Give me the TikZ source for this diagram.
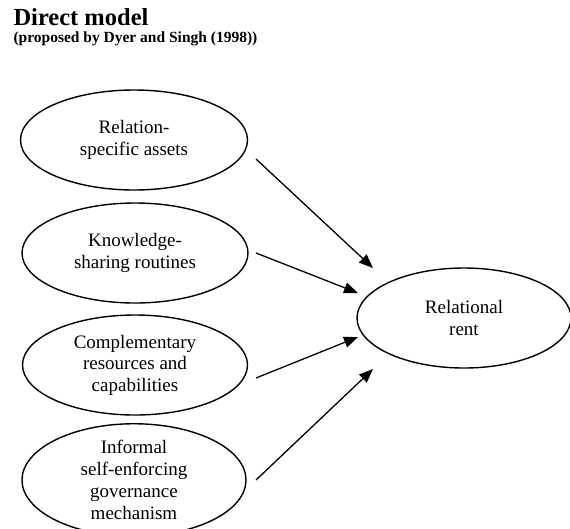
\documentclass[tikz,border=0pt]{standalone}
\usepackage{fontspec}
\setmainfont{Liberation Serif}
\usetikzlibrary{arrows.meta,shapes.geometric}
\begin{document}
\begin{tikzpicture}[x=1pt,y=-1pt,
  ell/.style={draw,line width=1.4pt,ellipse,inner sep=0pt,align=center,
    font=\fontsize{19}{21.5}\selectfont},
  arr/.style={line width=1.3pt,-{Triangle[length=14pt,width=11pt]}}]
\useasboundingbox (0,0) rectangle (570,528);
\node[anchor=base west,font=\fontsize{24.5}{26}\bfseries\selectfont] (title) at (10,25) {Direct model};
\node[anchor=base west,font=\fontsize{15.5}{17}\bfseries\selectfont] (sub) at (10,42) {(proposed by Dyer and Singh (1998))};
\node[ell,minimum width=227pt,minimum height=100pt] (a) at (134,140) {Relation-\\specific assets};
\node[ell,minimum width=226pt,minimum height=100pt] (b) at (135,253) {Knowledge-\\sharing routines};
\node[ell,minimum width=225pt,minimum height=100pt] (c) at (135,365) {Complementary\\resources and\\capabilities};
\node[ell,minimum width=224pt,minimum height=97pt,font=\fontsize{19}{22}\selectfont] (d) at (134,480) {Informal\\self-enforcing\\governance\\mechanism};
\node[ell,minimum width=214pt,minimum height=100pt] (r) at (464,318) {Relational\\rent};
\coordinate (a1) at (256,159);
\coordinate (b1) at (256,253);
\coordinate (c1) at (256,378);
\coordinate (d1) at (256,480);
\coordinate (r1) at (373,268);
\coordinate (r2) at (358,293);
\coordinate (r3) at (358,337);
\coordinate (r4) at (373,369);
\draw[arr] (a1) -- (r1);
\draw[arr] (b1) -- (r2);
\draw[arr] (c1) -- (r3);
\draw[arr] (d1) -- (r4);
\end{tikzpicture}
\end{document}
